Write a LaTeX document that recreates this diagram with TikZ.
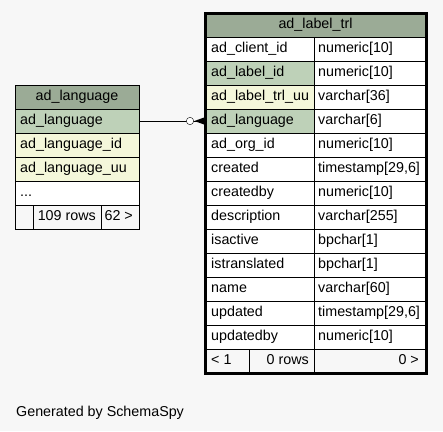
\documentclass[tikz,border=0pt]{standalone}
\usepackage{fontspec}
\setmainfont{Liberation Sans}
\usepackage{xcolor}
\usetikzlibrary{positioning}
\definecolor{TblHead}{HTML}{9BAB96}
\definecolor{TblKey}{HTML}{BED1B8}
\definecolor{TblIdx}{HTML}{F4F7DA}
\definecolor{PageBg}{HTML}{F7F7F7}
\tikzset{
  cell/.style={draw, anchor=north west, minimum height=24pt, inner sep=0pt, outer sep=0pt},
  txt/.style={inner sep=0pt, font=\fontsize{14.3}{16}\selectfont, text height=10.5pt, text depth=3pt},
}

\begin{document}
\begin{tikzpicture}[x=1pt, y=-1pt]
\useasboundingbox[fill=PageBg] (0,0) rectangle (443,431);

% ad_language
\node[cell, fill=TblHead, minimum width=124pt] (lang) at (15,85) {};
\node[txt] at (lang.center) {ad\_language};
\foreach \name/\col [count=\i] in {ad\_language/TblKey, ad\_language\_id/TblIdx,
    ad\_language\_uu/TblIdx, .{}.{}./white} {%
  \node[cell, fill=\col, minimum width=124pt] (lang-\i) at (15,85+24*\i) {};
  \node[txt, anchor=west] at ([xshift=5pt]lang-\i.west) {\name};
}
\node[cell, fill=PageBg, minimum width=18pt] (langfoot-1) at (15,205) {};
\node[cell, fill=PageBg, minimum width=68pt] (langfoot-2) at (33,205) {};
\node[cell, fill=PageBg, minimum width=38pt] (langfoot-3) at (101,205) {};
\node[txt, anchor=east] at ([xshift=-5pt]langfoot-2.east) {109 rows};
\node[txt, anchor=east] at ([xshift=-6pt]langfoot-3.east) {62 >};

% ad_label_trl
\node[cell, fill=TblHead, minimum width=221pt] (trl) at (205,13) {};
\node[txt] at (trl.center) {ad\_label\_trl};
\foreach \name/\type/\col [count=\i] in {ad\_client\_id/numeric[10]/white,
    ad\_label\_id/numeric[10]/TblKey, ad\_label\_trl\_uu/varchar[36]/TblIdx,
    ad\_language/varchar[6]/TblKey, ad\_org\_id/numeric[10]/white,
    created/timestamp[29{,}6]/white, createdby/numeric[10]/white,
    description/varchar[255]/white, isactive/bpchar[1]/white,
    istranslated/bpchar[1]/white, name/varchar[60]/white,
    updated/timestamp[29{,}6]/white, updatedby/numeric[10]/white} {%
  \node[cell, fill=\col, minimum width=109pt] (trl-\i) at (205,13+24*\i) {};
  \node[cell, fill=white, minimum width=112pt] (trltype-\i) at (314,13+24*\i) {};
  \node[txt, anchor=west] at ([xshift=6pt]trl-\i.west) {\name};
  \node[txt, anchor=west] at ([xshift=4pt]trltype-\i.west) {\type};
}
\node[cell, fill=PageBg, minimum width=44pt] (trlfoot-1) at (205,349) {};
\node[cell, fill=PageBg, minimum width=65pt] (trlfoot-2) at (249,349) {};
\node[cell, fill=PageBg, minimum width=112pt] (trlfoot-3) at (314,349) {};
\node[txt, anchor=west] at ([xshift=6pt]trlfoot-1.west) {< 1};
\node[txt, anchor=east] at ([xshift=-5pt]trlfoot-2.east) {0 rows};
\node[txt, anchor=east] at ([xshift=-7pt]trlfoot-3.east) {0 >};
\draw[line width=3pt] (trl.north west) rectangle (trlfoot-3.south east);

% relation
\draw (lang-1.east) -- (trl-4.west);
\filldraw[fill=white] ([xshift=-15pt]trl-4.west) circle (3.7pt);
\fill ([xshift=-10.5pt]trl-4.west) -- ([xshift=-1pt, yshift=3.5pt]trl-4.west)
  -- ([xshift=-1pt, yshift=-3.5pt]trl-4.west) -- cycle;

\node[txt, anchor=base west] (gen) at (16,416) {Generated by SchemaSpy};
\end{tikzpicture}
\end{document}
